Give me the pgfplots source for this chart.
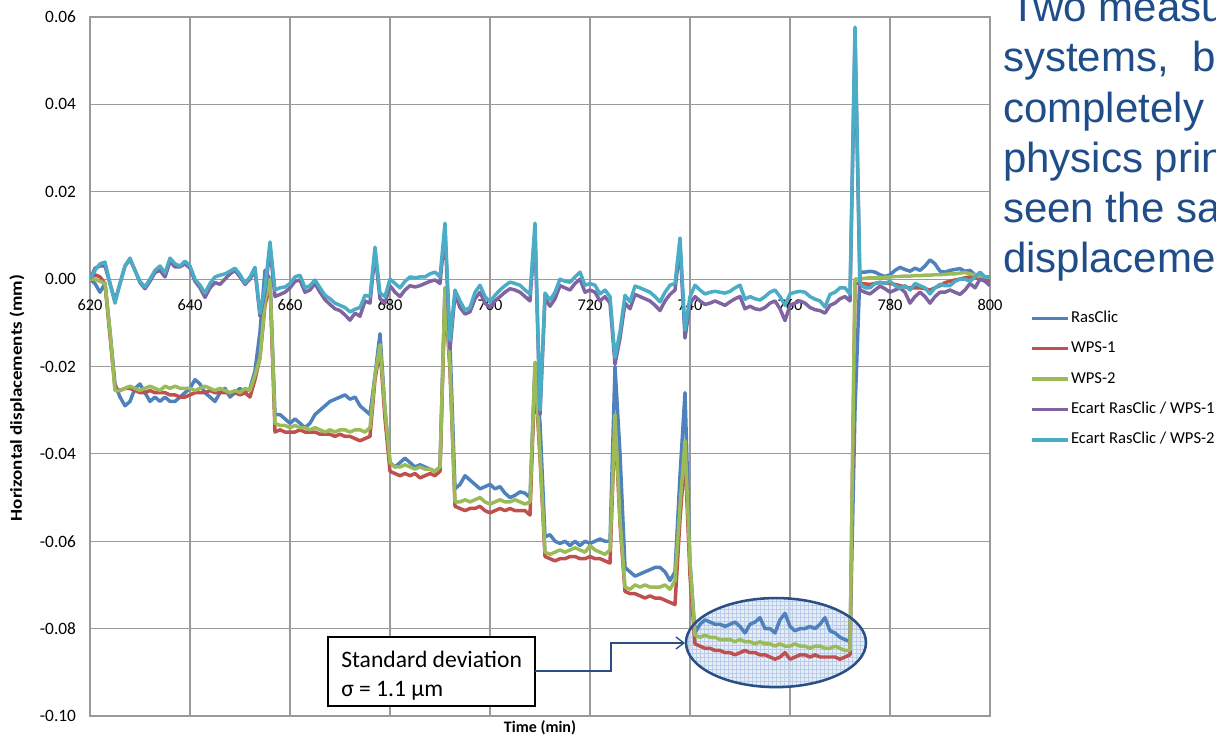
\documentclass[border=0pt]{standalone}
\usepackage{fontspec}
\setmainfont{Carlito}
\newfontfamily\arialfont{Liberation Sans}
\usepackage{pgfplots}
\pgfplotsset{compat=1.18}
\usepackage{pgfplotstable}
\usetikzlibrary{arrows.meta,patterns}
\definecolor{cRas}{HTML}{4F81BD}
\definecolor{cW1}{HTML}{C0504D}
\definecolor{cW2}{HTML}{9BBB59}
\definecolor{cE1}{HTML}{8064A2}
\definecolor{cE2}{HTML}{4BACC6}
\definecolor{gridgray}{HTML}{9A9A9A}
\definecolor{slideblue}{HTML}{1F4D89}
\definecolor{annblue}{HTML}{2A4F85}
\definecolor{ellfill}{RGB}{224,233,246}
\definecolor{ellgrid}{RGB}{185,205,233}

\pgfplotstableread{
t rc w1 w2 e1 e2
620 0.0000 0.0000 0.0000 0.0000 0.0000
621 -0.0010 0.0010 0.0000 0.0025 0.0020
622 -0.0030 0.0005 -0.0005 0.0030 0.0035
623 -0.0010 -0.0010 -0.0010 0.0030 0.0039
624 -0.0120 -0.0130 -0.0120 -0.0010 -0.0010
625 -0.0240 -0.0250 -0.0255 -0.0050 -0.0055
626 -0.0270 -0.0255 -0.0255 -0.0010 -0.0010
627 -0.0290 -0.0250 -0.0250 0.0030 0.0030
628 -0.0280 -0.0250 -0.0245 0.0045 0.0048
629 -0.0250 -0.0255 -0.0250 0.0020 0.0020
630 -0.0240 -0.0260 -0.0255 -0.0008 -0.0005
631 -0.0260 -0.0260 -0.0250 -0.0022 -0.0018
632 -0.0280 -0.0255 -0.0245 -0.0005 0.0000
633 -0.0270 -0.0260 -0.0250 0.0015 0.0020
634 -0.0280 -0.0260 -0.0255 0.0020 0.0030
635 -0.0270 -0.0260 -0.0245 0.0005 0.0014
636 -0.0280 -0.0265 -0.0250 0.0040 0.0048
637 -0.0280 -0.0265 -0.0245 0.0028 0.0035
638 -0.0270 -0.0270 -0.0250 0.0028 0.0030
639 -0.0260 -0.0270 -0.0250 0.0035 0.0041
640 -0.0250 -0.0265 -0.0250 0.0025 0.0030
641 -0.0230 -0.0260 -0.0255 -0.0005 0.0000
642 -0.0240 -0.0260 -0.0250 -0.0020 -0.0014
643 -0.0260 -0.0260 -0.0245 -0.0042 -0.0032
644 -0.0270 -0.0255 -0.0250 -0.0020 -0.0010
645 -0.0280 -0.0260 -0.0255 -0.0008 0.0005
646 -0.0260 -0.0260 -0.0250 -0.0012 0.0009
647 -0.0250 -0.0260 -0.0255 0.0000 0.0012
648 -0.0270 -0.0260 -0.0260 0.0012 0.0018
649 -0.0260 -0.0260 -0.0255 0.0020 0.0025
650 -0.0250 -0.0265 -0.0260 0.0005 0.0010
651 -0.0260 -0.0260 -0.0250 -0.0012 -0.0009
652 -0.0250 -0.0270 -0.0255 0.0000 0.0005
653 -0.0210 -0.0230 -0.0220 0.0020 0.0027
654 -0.0120 -0.0180 -0.0180 -0.0085 -0.0078
655 0.0020 -0.0060 -0.0050 -0.0030 -0.0020
656 0.0000 -0.0010 0.0000 0.0070 0.0085
657 -0.0310 -0.0350 -0.0330 -0.0040 -0.0025
658 -0.0310 -0.0345 -0.0335 -0.0035 -0.0020
659 -0.0320 -0.0350 -0.0335 -0.0030 -0.0018
660 -0.0330 -0.0350 -0.0340 -0.0020 -0.0010
661 -0.0320 -0.0350 -0.0335 -0.0005 0.0005
662 -0.0330 -0.0345 -0.0340 -0.0002 0.0009
663 -0.0340 -0.0350 -0.0340 -0.0030 -0.0020
664 -0.0330 -0.0350 -0.0345 -0.0025 -0.0015
665 -0.0310 -0.0350 -0.0340 -0.0010 -0.0002
666 -0.0300 -0.0355 -0.0345 -0.0030 -0.0020
667 -0.0290 -0.0355 -0.0350 -0.0047 -0.0037
668 -0.0280 -0.0355 -0.0345 -0.0058 -0.0045
669 -0.0275 -0.0360 -0.0350 -0.0068 -0.0055
670 -0.0270 -0.0355 -0.0345 -0.0072 -0.0060
671 -0.0265 -0.0360 -0.0345 -0.0082 -0.0065
672 -0.0275 -0.0360 -0.0350 -0.0094 -0.0075
673 -0.0270 -0.0365 -0.0345 -0.0078 -0.0069
674 -0.0290 -0.0370 -0.0345 -0.0085 -0.0065
675 -0.0300 -0.0365 -0.0350 -0.0050 -0.0037
676 -0.0310 -0.0360 -0.0340 -0.0055 -0.0040
677 -0.0220 -0.0230 -0.0220 0.0060 0.0073
678 -0.0125 -0.0160 -0.0150 -0.0045 -0.0032
679 -0.0300 -0.0320 -0.0300 -0.0055 -0.0040
680 -0.0420 -0.0440 -0.0420 -0.0015 0.0000
681 -0.0430 -0.0445 -0.0430 -0.0030 -0.0010
682 -0.0420 -0.0450 -0.0430 -0.0040 -0.0020
683 -0.0410 -0.0445 -0.0425 -0.0025 -0.0005
684 -0.0420 -0.0450 -0.0430 -0.0015 0.0005
685 -0.0430 -0.0445 -0.0435 -0.0018 0.0003
686 -0.0425 -0.0455 -0.0430 -0.0015 0.0005
687 -0.0430 -0.0450 -0.0435 -0.0010 0.0005
688 -0.0435 -0.0445 -0.0435 -0.0005 0.0012
689 -0.0440 -0.0450 -0.0440 -0.0002 0.0016
690 -0.0430 -0.0440 -0.0430 -0.0010 0.0005
691 -0.0020 -0.0030 -0.0020 0.0110 0.0128
692 -0.0150 -0.0210 -0.0200 -0.0160 -0.0140
693 -0.0480 -0.0520 -0.0510 -0.0035 -0.0025
694 -0.0470 -0.0525 -0.0510 -0.0065 -0.0050
695 -0.0450 -0.0530 -0.0505 -0.0080 -0.0071
696 -0.0460 -0.0525 -0.0510 -0.0075 -0.0065
697 -0.0470 -0.0525 -0.0505 -0.0045 -0.0030
698 -0.0480 -0.0520 -0.0500 -0.0030 -0.0014
699 -0.0475 -0.0530 -0.0510 -0.0055 -0.0040
700 -0.0470 -0.0535 -0.0515 -0.0065 -0.0052
701 -0.0480 -0.0530 -0.0510 -0.0050 -0.0037
702 -0.0475 -0.0525 -0.0505 -0.0040 -0.0025
703 -0.0490 -0.0530 -0.0510 -0.0030 -0.0015
704 -0.0500 -0.0525 -0.0510 -0.0022 -0.0007
705 -0.0495 -0.0530 -0.0505 -0.0025 -0.0010
706 -0.0487 -0.0530 -0.0510 -0.0030 -0.0014
707 -0.0490 -0.0530 -0.0515 -0.0040 -0.0025
708 -0.0500 -0.0540 -0.0510 -0.0050 -0.0034
709 -0.0200 -0.0210 -0.0190 0.0110 0.0128
710 -0.0330 -0.0410 -0.0400 -0.0310 -0.0300
711 -0.0590 -0.0635 -0.0625 -0.0045 -0.0032
712 -0.0585 -0.0640 -0.0630 -0.0062 -0.0048
713 -0.0600 -0.0645 -0.0625 -0.0045 -0.0030
714 -0.0605 -0.0640 -0.0620 -0.0015 0.0000
715 -0.0600 -0.0640 -0.0625 -0.0020 -0.0005
716 -0.0610 -0.0635 -0.0620 -0.0025 -0.0007
717 -0.0600 -0.0635 -0.0615 -0.0010 0.0005
718 -0.0610 -0.0640 -0.0620 0.0000 0.0016
719 -0.0600 -0.0640 -0.0625 -0.0030 -0.0014
720 -0.0605 -0.0635 -0.0610 -0.0025 -0.0010
721 -0.0600 -0.0640 -0.0620 -0.0030 -0.0014
722 -0.0595 -0.0640 -0.0625 -0.0050 -0.0034
723 -0.0600 -0.0645 -0.0630 -0.0040 -0.0025
724 -0.0600 -0.0650 -0.0620 -0.0055 -0.0040
725 -0.0200 -0.0320 -0.0310 -0.0195 -0.0180
726 -0.0400 -0.0560 -0.0550 -0.0135 -0.0120
727 -0.0660 -0.0715 -0.0705 -0.0055 -0.0037
728 -0.0670 -0.0720 -0.0710 -0.0068 -0.0052
729 -0.0680 -0.0720 -0.0700 -0.0035 -0.0016
730 -0.0675 -0.0725 -0.0705 -0.0040 -0.0020
731 -0.0670 -0.0730 -0.0700 -0.0045 -0.0025
732 -0.0665 -0.0725 -0.0705 -0.0050 -0.0030
733 -0.0660 -0.0730 -0.0705 -0.0060 -0.0040
734 -0.0660 -0.0730 -0.0705 -0.0072 -0.0052
735 -0.0670 -0.0735 -0.0700 -0.0050 -0.0030
736 -0.0690 -0.0740 -0.0710 -0.0035 -0.0014
737 -0.0670 -0.0745 -0.0690 -0.0025 -0.0010
738 -0.0450 -0.0550 -0.0520 0.0075 0.0094
739 -0.0260 -0.0400 -0.0370 -0.0135 -0.0117
740 -0.0650 -0.0680 -0.0650 -0.0055 -0.0040
741 -0.0810 -0.0835 -0.0815 -0.0040 -0.0014
742 -0.0790 -0.0840 -0.0820 -0.0050 -0.0025
743 -0.0780 -0.0845 -0.0815 -0.0058 -0.0034
744 -0.0785 -0.0845 -0.0820 -0.0055 -0.0030
745 -0.0790 -0.0850 -0.0820 -0.0050 -0.0028
746 -0.0790 -0.0850 -0.0825 -0.0055 -0.0030
747 -0.0795 -0.0855 -0.0825 -0.0060 -0.0032
748 -0.0790 -0.0855 -0.0825 -0.0052 -0.0028
749 -0.0785 -0.0860 -0.0830 -0.0045 -0.0020
750 -0.0795 -0.0855 -0.0825 -0.0040 -0.0014
751 -0.0810 -0.0850 -0.0830 -0.0068 -0.0046
752 -0.0790 -0.0855 -0.0830 -0.0062 -0.0040
753 -0.0785 -0.0855 -0.0835 -0.0068 -0.0045
754 -0.0775 -0.0860 -0.0830 -0.0070 -0.0048
755 -0.0800 -0.0860 -0.0835 -0.0065 -0.0040
756 -0.0800 -0.0865 -0.0835 -0.0055 -0.0030
757 -0.0810 -0.0870 -0.0840 -0.0050 -0.0025
758 -0.0780 -0.0865 -0.0835 -0.0068 -0.0040
759 -0.0765 -0.0855 -0.0840 -0.0095 -0.0060
760 -0.0795 -0.0870 -0.0840 -0.0060 -0.0034
761 -0.0805 -0.0865 -0.0835 -0.0055 -0.0030
762 -0.0800 -0.0860 -0.0840 -0.0050 -0.0028
763 -0.0800 -0.0860 -0.0840 -0.0055 -0.0030
764 -0.0795 -0.0865 -0.0845 -0.0065 -0.0040
765 -0.0800 -0.0860 -0.0840 -0.0070 -0.0046
766 -0.0790 -0.0865 -0.0840 -0.0072 -0.0050
767 -0.0775 -0.0865 -0.0845 -0.0078 -0.0064
768 -0.0805 -0.0865 -0.0845 -0.0060 -0.0035
769 -0.0810 -0.0865 -0.0840 -0.0055 -0.0030
770 -0.0820 -0.0870 -0.0845 -0.0045 -0.0020
771 -0.0825 -0.0865 -0.0850 -0.0040 -0.0020
772 -0.0830 -0.0860 -0.0850 -0.0050 -0.0034
773 -0.0300 -0.0010 0.0000 0.0560 0.0577
774 0.0016 -0.0010 0.0000 -0.0025 -0.0010
775 0.0016 -0.0011 0.0002 -0.0030 -0.0020
776 0.0018 -0.0012 0.0003 -0.0034 -0.0020
777 0.0016 -0.0010 0.0003 -0.0025 -0.0010
778 0.0010 -0.0008 0.0004 -0.0016 -0.0007
779 0.0006 -0.0009 0.0004 -0.0022 -0.0010
780 0.0010 -0.0010 0.0005 -0.0030 -0.0005
781 0.0020 -0.0012 0.0006 -0.0025 -0.0015
782 0.0027 -0.0015 0.0006 -0.0020 -0.0020
783 0.0022 -0.0018 0.0007 -0.0030 -0.0015
784 0.0018 -0.0020 0.0007 -0.0055 -0.0025
785 0.0025 -0.0020 0.0008 -0.0040 -0.0010
786 0.0020 -0.0020 0.0008 -0.0030 -0.0015
787 0.0030 -0.0022 0.0009 -0.0040 -0.0020
788 0.0044 -0.0025 0.0009 -0.0055 -0.0034
789 0.0035 -0.0020 0.0010 -0.0040 -0.0020
790 0.0018 -0.0015 0.0010 -0.0030 -0.0012
791 0.0016 -0.0008 0.0011 -0.0030 -0.0015
792 0.0020 -0.0005 0.0012 -0.0025 -0.0015
793 0.0022 -0.0002 0.0012 -0.0030 -0.0005
794 0.0024 0.0000 0.0014 -0.0035 0.0000
795 0.0018 0.0003 0.0015 -0.0025 0.0000
796 0.0020 0.0005 0.0012 -0.0010 -0.0005
797 0.0010 0.0003 0.0010 -0.0020 0.0005
798 0.0000 0.0000 0.0005 0.0000 0.0016
799 0.0005 -0.0002 0.0005 -0.0005 0.0005
800 0.0005 -0.0005 0.0005 -0.0015 0.0005
}\datatable

\begin{document}
\begin{tikzpicture}[x=0.75pt,y=0.75pt]
\useasboundingbox (0,0) rectangle (1216,737);
\clip (0,0) rectangle (1216,737);
\fill[white] (0,0) rectangle (1216,737);
\begin{axis}[
  at={(67.5pt,15.75pt)}, anchor=south west,
  width=675pt, height=524.25pt, scale only axis,
  xmin=620, xmax=800, ymin=-0.1, ymax=0.06,
  xtick={620,640,660,680,700,720,740,760,780,800},
  ytick={-0.1,-0.08,-0.06,-0.04,-0.02,0,0.02,0.04,0.06},
  scaled y ticks=false, scaled x ticks=false,
  grid=major,
  grid style={draw=gridgray, line width=0.9pt},
  axis line style={draw=gridgray, line width=0.9pt},
  major tick length=0pt,
  /pgf/number format/assume math mode=true,
  yticklabel style={/pgf/number format/fixed, /pgf/number format/fixed zerofill,
    /pgf/number format/precision=2, font=\fontsize{13}{15}\selectfont, xshift=-7pt},
  xticklabel style={/pgf/number format/fixed, font=\fontsize{12.3}{14}\selectfont, yshift=315.75pt},
  xlabel={Time (min)},
  ylabel={Horizontal displacements (mm)},
  xlabel style={font=\bfseries\fontsize{12}{14}\selectfont, at={(axis description cs:0.5,-0.0172)}, anchor=center},
  ylabel style={font=\bfseries\fontsize{12.5}{14}\selectfont, at={(axis description cs:-0.0811,0.455)}, anchor=center, xscale=1.14},
  legend style={at={(1.0444,0.5827)}, anchor=north west, draw=none, fill=none,
    font=\fontsize{12.5}{14}\selectfont, row sep=8.8pt, inner sep=0pt,
    nodes={inner sep=1pt, anchor=west, text height=9pt, text depth=3pt}},
  legend cell align=left,
  legend image code/.code={\draw[#1, line width=2.6pt] (0pt,0pt) -- (27pt,0pt);},
  every axis plot/.append style={line width=2.6pt, line join=round},
]
\fill[ellfill, fill opacity=0.8] (axis cs:757.2,-0.0832) ellipse [x radius=67.5pt, y radius=33.4pt];
\fill[pattern=grid, pattern color=ellgrid] (axis cs:757.2,-0.0832) ellipse [x radius=67.5pt, y radius=33.4pt];
\addplot[cRas] table[x=t, y=rc] {\datatable};
\addlegendentry{RasClic}
\addplot[cW1] table[x=t, y=w1] {\datatable};
\addlegendentry{WPS-1}
\addplot[cW2] table[x=t, y=w2] {\datatable};
\addlegendentry{WPS-2}
\addplot[cE1] table[x=t, y=e1] {\datatable};
\addlegendentry{Ecart RasClic / WPS-1}
\addplot[cE2] table[x=t, y=e2] {\datatable};
\addlegendentry{Ecart RasClic / WPS-2}
\draw[annblue, line width=1.9pt] (axis cs:757.2,-0.0832) ellipse [x radius=67.5pt, y radius=33.4pt];
\end{axis}
% annotation box and arrow
\draw[black, line width=1.1pt, fill=white] (328,31) rectangle (535,100);
\node[anchor=base west, inner sep=0pt, font=\fontsize{17.7}{20}\selectfont] at (341,69) {Standard deviation};
\node[anchor=base west, inner sep=0pt, font=\fontsize{17.7}{20}\selectfont] at (341,40) {σ = 1.1 µm};
\draw[annblue, line width=1pt, -{Straight Barb[length=6pt,width=9pt]}] (535,66) -- (611,66) -- (611,94) -- (685,94);
% slide text
\begin{scope}[every node/.style={anchor=base west, inner sep=0pt, text=slideblue, font=\arialfont\fontsize{31.5}{36}\selectfont}]
\node at (1010,715) {Two measurement};
\node at (1003,665) {systems,\ \ based on};
\node at (1003,614) {completely different};
\node at (1003,564) {physics principles};
\node at (1003,514) {seen the same};
\node at (1003,464) {displacements};
\end{scope}
\end{tikzpicture}
\end{document}
